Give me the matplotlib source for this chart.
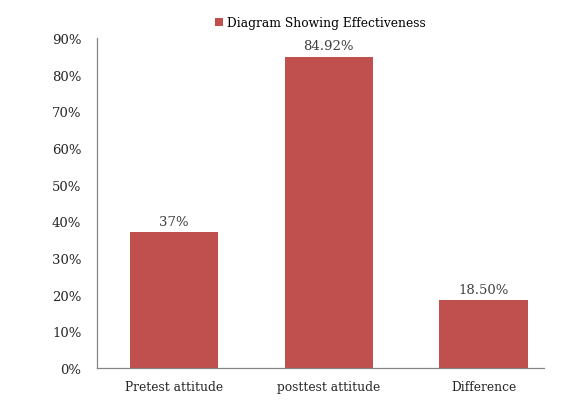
import matplotlib.pyplot as plt
from matplotlib.ticker import PercentFormatter

categories = ["Pretest attitude", "posttest attitude", "Difference"]
values = [37, 84.92, 18.5]
value_labels = ["37%", "84.92%", "18.50%"]

plt.rcParams['font.family'] = ['DejaVu Serif', 'Liberation Serif']

fig = plt.figure(figsize=(5.79, 4.10), dpi=100)
ax = fig.add_axes([0.167, 0.10, 0.7725, 0.805])

bars = ax.bar(range(len(categories)), values, width=0.571, color="#C0504D",
              label="Diagram Showing Effectiveness")
for b, lab in zip(bars, value_labels):
    ax.annotate(lab, (b.get_x() + b.get_width() / 2, b.get_height()),
                xytext=(0, 3), textcoords="offset points",
                ha="center", va="bottom", fontsize=9.5, color="#404040")

ax.set_ylim(0, 90)
ax.set_xlim(-0.5, 2.39)
ax.set_yticks(range(0, 91, 10))
ax.yaxis.set_major_formatter(PercentFormatter(decimals=0))
ax.set_xticks(range(len(categories)))
ax.set_xticklabels(categories)
ax.tick_params(axis="both", length=0, labelsize=9.5, labelcolor="#262626")
ax.tick_params(axis="x", labelsize=8.8, pad=9)
ax.tick_params(axis="y", pad=11)

for s in ["top", "right"]:
    ax.spines[s].set_visible(False)
for s in ["left", "bottom"]:
    ax.spines[s].set_color("#868686")
    ax.spines[s].set_linewidth(0.9)

ax.legend(loc="lower center", bbox_to_anchor=(0.5, 1.0), frameon=False,
          fontsize=8.8, handlelength=0.7, handleheight=0.7, handletextpad=0.3,
          borderaxespad=0.3)

fig.savefig("out.png", dpi=100)
